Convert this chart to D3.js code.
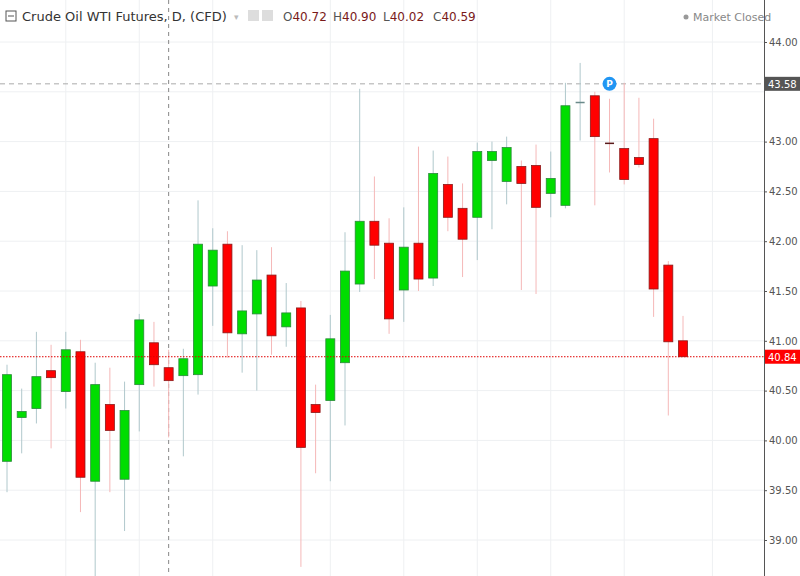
<!DOCTYPE html>
<html><head><meta charset="utf-8">
<script src="https://cdn.jsdelivr.net/npm/d3@7"></script>
<style>body{margin:0;background:#fff}svg{display:block}</style>
</head><body><svg id="c" width="800" height="576"></svg>
<script>
const opens  = [39.79,40.23,40.32,40.70,40.49,40.89,39.59,40.36,39.61,40.56,40.98,40.73,40.65,40.66,41.55,41.97,41.07,41.27,41.66,41.14,41.33,40.36,40.40,40.78,41.57,42.20,41.98,41.51,41.98,41.63,42.57,42.33,42.24,42.81,42.60,42.75,42.76,42.48,42.36,43.39,43.46,42.99,42.93,42.84,43.03,41.76,41.00];
const closes = [40.66,40.29,40.64,40.63,40.91,39.63,40.56,40.10,40.30,41.21,40.76,40.60,40.82,41.97,41.91,41.08,41.30,41.61,41.05,41.28,39.93,40.28,41.02,41.70,42.20,41.96,41.22,41.94,41.62,42.68,42.24,42.02,42.90,42.90,42.94,42.58,42.34,42.63,43.36,43.40,43.05,42.98,42.62,42.77,41.52,40.99,40.84];
const highs  = [40.76,40.52,41.09,40.96,41.09,41.01,40.78,40.73,40.59,41.27,41.19,40.91,40.92,42.41,42.13,42.10,41.96,41.91,41.94,41.58,41.40,40.56,41.26,42.09,43.53,42.65,42.23,42.34,42.95,42.91,42.85,42.58,42.99,43.00,43.05,42.81,42.97,42.90,43.59,43.79,43.50,43.43,43.59,43.44,43.23,41.80,41.25];
const lows   = [39.48,39.87,40.17,39.92,40.32,39.28,38.60,39.48,39.09,40.09,40.54,40.03,39.84,40.46,41.15,40.83,40.68,40.50,40.86,40.94,38.73,39.67,39.59,40.15,41.49,41.62,41.07,41.19,41.50,41.55,42.10,41.64,41.81,42.12,42.37,41.51,41.47,42.24,42.33,43.01,42.36,42.69,42.57,42.74,41.24,40.25,40.84];
const yTicks = [39.0,39.5,40.0,40.5,41.0,41.5,42.0,42.5,43.0,43.5,44.0];
const gridIdx = [4,9,14,22,27,32,37,42,48];
const lastPrice = 40.84, crossPrice = 43.58, crossIdx = 11, pIdx = 41;

const svg = d3.select("#c");
const x = d3.scaleLinear().domain([0,46]).range([7,683]);
const y = d3.scaleLinear().domain([39,44]).range([540,42]);
const plotR = 764;
const font = "Verdana, 'DejaVu Sans', sans-serif";

const g = svg.append("g");
g.selectAll(".hg").data(yTicks).enter().append("line")
 .attr("x1",0).attr("x2",plotR).attr("y1",d=>y(d)).attr("y2",d=>y(d)).attr("stroke","#eef0f2");
g.selectAll(".vg").data(gridIdx).enter().append("line")
 .attr("x1",d=>x(d)).attr("x2",d=>x(d)).attr("y1",0).attr("y2",576).attr("stroke","#eef0f2");

g.append("line").attr("x1",x(crossIdx)).attr("x2",x(crossIdx)).attr("y1",0).attr("y2",576)
 .attr("stroke","#888").attr("stroke-dasharray","4,4");
g.append("line").attr("x1",0).attr("x2",plotR).attr("y1",y(crossPrice)).attr("y2",y(crossPrice))
 .attr("stroke","#aaa").attr("stroke-dasharray","5,4");

const data = opens.map((o,i)=>({i,o,c:closes[i],h:highs[i],l:lows[i]}));
const up = d=>d.c>=d.o;
const doji = d=>Math.abs(d.c-d.o)<0.02;
const cg = g.selectAll(".c").data(data).enter().append("g");
cg.append("line").attr("x1",d=>x(d.i)).attr("x2",d=>x(d.i)).attr("y1",d=>y(d.h)).attr("y2",d=>y(d.l))
 .attr("stroke",d=>up(d)?"#b0c8cc":"#f5b8b8").attr("stroke-width",1);
cg.append("rect").attr("x",d=>x(d.i)-4.5).attr("width",9)
 .attr("y",d=>y(Math.max(d.o,d.c))).attr("height",d=>Math.max(1.5,Math.abs(y(d.o)-y(d.c))))
 .attr("fill",d=>doji(d)?(up(d)?"#6a8a8a":"#5a1a1a"):(up(d)?"#00dd00":"#ff0000"))
 .attr("stroke",d=>doji(d)?"none":(up(d)?"#2a8a3a":"#8a1a1a")).attr("stroke-width",0.8);

g.append("line").attr("x1",0).attr("x2",plotR).attr("y1",y(lastPrice)).attr("y2",y(lastPrice))
 .attr("stroke","#e00000").attr("stroke-dasharray","1.5,1.5");

g.append("circle").attr("cx",x(pIdx)).attr("cy",y(crossPrice)).attr("r",7).attr("fill","#2196f3");
g.append("text").attr("x",x(pIdx)).attr("y",y(crossPrice)+3.5).attr("text-anchor","middle")
 .attr("font-family",font).attr("font-size",9).attr("font-weight","bold").attr("fill","#fff").text("P");

svg.append("rect").attr("x",plotR).attr("y",0).attr("width",36).attr("height",576).attr("fill","#fff");
svg.append("line").attr("x1",plotR+0.5).attr("x2",plotR+0.5).attr("y1",0).attr("y2",576).attr("stroke","#555");
const ax = svg.append("g").attr("transform",`translate(${plotR},0)`)
 .call(d3.axisRight(y).tickValues(yTicks.filter(v=>Math.abs(y(v)-y(crossPrice))>9)).tickFormat(d3.format(".2f")).tickSize(3));
ax.select(".domain").remove();
ax.selectAll("line").attr("stroke","#555");
ax.selectAll("text").attr("font-family",font).attr("font-size",10).attr("fill","#555").attr("x",5);

function tag(v,bg){
  svg.append("rect").attr("x",plotR+1).attr("y",y(v)-7).attr("width",35).attr("height",14).attr("fill",bg);
  svg.append("text").attr("x",plotR+4).attr("y",y(v)+4).attr("font-family",font).attr("font-size",10)
   .attr("fill","#fff").text(d3.format(".2f")(v));
}
tag(crossPrice,"#555");
tag(lastPrice,"#ff0000");

svg.append("rect").attr("x",6).attr("y",11).attr("width",10).attr("height",10).attr("fill","none").attr("stroke","#555");
svg.append("line").attr("x1",8).attr("x2",14).attr("y1",16).attr("y2",16).attr("stroke","#555");
svg.append("text").attr("x",22).attr("y",21).attr("font-family",font).attr("font-size",13).attr("fill","#333")
 .text("Crude Oil WTI Futures, D, (CFD)");
svg.append("text").attr("x",234).attr("y",20).attr("font-family",font).attr("font-size",9).attr("fill","#bbb").text("▾");
svg.append("rect").attr("x",248).attr("y",10).attr("width",11).attr("height",11).attr("fill","#ddd");
svg.append("rect").attr("x",262).attr("y",10).attr("width",11).attr("height",11).attr("fill","#ddd");
const ohlc = [["O","40.72",283],["H","40.90",333],["L","40.02",383],["C","40.59",433]];
ohlc.forEach(([k,v,px])=>{
  const t = svg.append("text").attr("x",px).attr("y",21).attr("font-family",font).attr("font-size",12);
  t.append("tspan").attr("fill","#555").text(k);
  t.append("tspan").attr("fill","#7a1a1a").text(v);
});
svg.append("circle").attr("cx",686).attr("cy",17).attr("r",2.5).attr("fill","#999");
svg.append("text").attr("x",693).attr("y",21).attr("font-family",font).attr("font-size",11).attr("fill","#888").text("Market Closed");
</script></body></html>
